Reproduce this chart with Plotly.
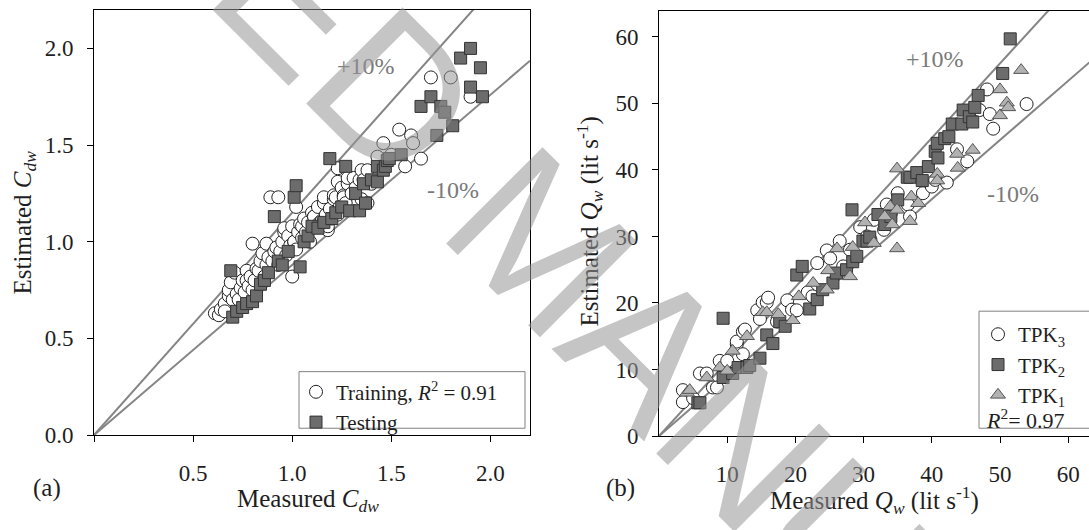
import plotly.graph_objects as go

# ---------------- data: panel (a) ----------------
train_x = [0.61, 0.63, 0.64, 0.66, 0.66, 0.68, 0.68, 0.69, 0.70, 0.71, 0.72, 0.73, 0.74, 0.75, 0.76, 0.77, 0.77,
           0.78, 0.79, 0.80, 0.80, 0.81, 0.82, 0.83, 0.84, 0.85, 0.86, 0.87, 0.87, 0.88, 0.89, 0.90, 0.91, 0.92,
           0.93, 0.93, 0.94, 0.95, 0.96, 0.96, 0.97, 0.98, 0.99, 1.00, 1.00, 1.01, 1.01, 1.02, 1.02, 1.03, 1.04,
           1.05, 1.05, 1.06, 1.07, 1.08, 1.09, 1.10, 1.11, 1.11, 1.12, 1.13, 1.14, 1.15, 1.16, 1.16, 1.16, 1.17,
           1.18, 1.18, 1.19, 1.20, 1.21, 1.21, 1.22, 1.23, 1.23, 1.23, 1.24, 1.25, 1.26, 1.26, 1.27, 1.28, 1.28,
           1.30, 1.31, 1.32, 1.34, 1.35, 1.35, 1.36, 1.38, 1.38, 1.40, 1.43, 1.46, 1.50, 1.54, 1.57, 1.60, 1.61,
           1.65, 1.70, 1.80, 1.90]
train_y = [0.63, 0.62, 0.65, 0.68, 0.64, 0.72, 0.75, 0.79, 0.70, 0.84, 0.73, 0.70, 0.76, 0.80, 0.74, 0.85, 0.80,
           0.77, 0.82, 0.99, 0.75, 0.80, 0.86, 0.85, 0.90, 0.94, 0.82, 0.99, 0.88, 0.92, 1.23, 0.90, 0.95, 0.97,
           1.23, 0.88, 0.95, 1.00, 1.05, 1.07, 0.93, 1.03, 0.98, 0.82, 1.08, 1.00, 1.00, 1.18, 0.96, 1.05, 1.09,
           1.02, 1.08, 1.12, 1.05, 1.10, 1.00, 1.15, 1.13, 1.13, 1.08, 1.18, 1.10, 1.11, 1.20, 1.23, 1.11, 1.14,
           1.06, 1.08, 1.17, 1.12, 1.22, 1.24, 1.23, 1.14, 1.38, 1.31, 1.18, 1.28, 1.24, 1.23, 1.20, 1.30, 1.33,
           1.25, 1.33, 1.28, 1.32, 1.22, 1.37, 1.32, 1.37, 1.20, 1.30, 1.44, 1.51, 1.45, 1.58, 1.39, 1.55, 1.51,
           1.43, 1.85, 1.85, 1.75]

test_x = [0.69, 0.70, 0.72, 0.75, 0.77, 0.80, 0.82, 0.84, 0.86, 0.88, 0.91, 0.93, 0.95, 0.98, 1.01, 1.02, 1.04,
          1.06, 1.08, 1.10, 1.13, 1.16, 1.19, 1.20, 1.22, 1.25, 1.27, 1.29, 1.32, 1.34, 1.36, 1.37, 1.40, 1.43,
          1.43, 1.46, 1.47, 1.48, 1.49, 1.55, 1.65, 1.70, 1.73, 1.75, 1.77, 1.81, 1.85, 1.90, 1.90, 1.95, 1.96]
test_y = [0.85, 0.61, 0.64, 0.66, 0.68, 0.69, 0.72, 0.78, 0.80, 0.84, 1.13, 0.90, 0.88, 0.95, 1.23, 1.29, 0.87,
          1.00, 1.03, 1.08, 1.07, 1.10, 1.43, 1.12, 1.15, 1.18, 1.39, 1.16, 1.25, 1.16, 1.30, 1.20, 1.32, 1.31,
          1.39, 1.37, 1.39, 1.42, 1.43, 1.45, 1.70, 1.75, 1.55, 1.70, 1.67, 1.60, 1.95, 2.00, 1.80, 1.90, 1.75]

# ---------------- data: panel (b) ----------------
tpk3_x = [3.5, 3.5, 5.0, 6.0, 7.0, 7.9, 8.5, 8.9, 10.0, 11.4, 11.4, 12.3, 12.3, 12.6, 14.4, 14.8, 15.2, 15.8,
          16.0, 17.3, 18.8, 19.5, 20.2, 21.8, 22.5, 23.2, 24.6, 25.1, 26.5, 27.0, 28.0, 29.5, 30.5, 31.0, 31.5,
          33.0, 33.4, 34.0, 35.0, 36.5, 36.8, 38.7, 40.0, 40.5, 42.2, 43.7, 45.2, 47.0, 48.1, 48.5, 49.0, 53.9]
tpk3_y = [6.9, 5.1, 5.7, 9.4, 9.4, 7.3, 7.3, 11.3, 11.3, 13.8, 14.2, 15.7, 12.3, 16.0, 18.9, 17.6, 20.1, 20.1,
          20.8, 17.2, 20.4, 19.0, 18.9, 21.6, 21.0, 26.0, 27.9, 26.7, 29.3, 25.5, 28.0, 31.4, 30.0, 29.5, 32.5,
          31.0, 34.8, 33.5, 36.5, 34.8, 33.0, 36.5, 37.5, 38.5, 38.1, 43.1, 41.3, 49.0, 52.1, 48.4, 46.2, 49.9]

tpk2_x = [5.7, 6.0, 9.4, 9.4, 10.8, 11.6, 12.9, 13.3, 14.8, 15.8, 16.7, 17.7, 18.5, 20.2, 21.0, 22.1, 23.2,
          24.0, 25.5, 26.0, 27.5, 28.3, 28.4, 29.0, 29.9, 30.5, 30.9, 32.1, 33.1, 34.0, 35.0, 36.4, 36.8, 37.8,
          38.6, 39.5, 40.5, 40.8, 40.9, 41.9, 42.5, 43.0, 44.4, 44.6, 45.5, 46.0, 46.3, 46.8, 50.4, 51.5]
tpk2_y = [5.0, 5.0, 8.8, 17.7, 9.4, 10.3, 10.3, 10.6, 11.7, 15.2, 13.9, 17.2, 16.5, 24.2, 25.5, 19.1, 20.5,
          22.0, 23.0, 24.5, 25.0, 34.0, 26.2, 27.0, 29.3, 29.3, 29.9, 33.3, 31.8, 33.0, 35.5, 38.9, 38.9, 39.6,
          38.4, 40.5, 42.8, 44.0, 41.8, 44.7, 45.0, 46.9, 46.9, 49.0, 48.0, 47.2, 49.4, 51.2, 54.5, 59.7]

tpk1_x = [4.1, 4.5, 7.0, 8.9, 10.0, 10.8, 12.9, 15.2, 15.8, 17.5, 19.6, 20.5, 22.6, 24.6, 24.8, 26.1, 28.0,
          28.4, 30.2, 31.5, 33.1, 33.9, 34.2, 34.9, 34.9, 34.9, 36.8, 37.0, 38.0, 40.8, 40.8, 43.7, 43.8, 46.0,
          50.0, 50.0, 51.0, 51.2, 53.1]
tpk1_y = [6.5, 6.9, 8.8, 10.3, 9.8, 12.8, 15.0, 18.6, 18.6, 18.3, 17.4, 21.0, 23.0, 22.0, 24.9, 28.2, 24.0,
          28.4, 32.1, 29.0, 33.0, 34.5, 31.8, 34.0, 40.2, 28.2, 32.3, 36.0, 35.0, 39.4, 38.4, 42.4, 40.3, 43.0,
          48.2, 52.1, 50.1, 49.4, 55.0]

# reference lines (+10% / -10% bands as drawn)
band_a = {"upper": 1.15, "lower": 0.88}
band_b = {"upper": 1.12, "lower": 0.89}
xmax_a = 2.2
xmax_b = 64.0

W, H = 1089, 530
SERIF = "Liberation Serif, Tinos, 'Times New Roman', 'DejaVu Serif', serif"
INK = "#1e1e1e"


def px_x(p):
    return p / W


def px_y(p):
    return 1 - p / H


fig = go.Figure()

line_style = dict(color="#858585", width=2)
for k in ("upper", "lower"):
    fig.add_trace(go.Scatter(x=[0, xmax_a], y=[0, xmax_a * band_a[k]], mode="lines", line=line_style,
                             showlegend=False, hoverinfo="skip", xaxis="x", yaxis="y"))
for k in ("upper", "lower"):
    fig.add_trace(go.Scatter(x=[0, xmax_b], y=[0, xmax_b * band_b[k]], mode="lines", line=line_style,
                             showlegend=False, hoverinfo="skip", xaxis="x2", yaxis="y2"))

fig.add_trace(go.Scatter(
    x=train_x, y=train_y, mode="markers", name="Training, <i>R</i><sup>2</sup> = 0.91",
    marker=dict(symbol="circle", size=13, color="white", line=dict(color="#222222", width=1)),
    xaxis="x", yaxis="y", legend="legend"))
fig.add_trace(go.Scatter(
    x=test_x, y=test_y, mode="markers", name="Testing",
    marker=dict(symbol="square", size=12, color="#6c6c6c", line=dict(color="#333333", width=1)),
    xaxis="x", yaxis="y", legend="legend"))

fig.add_trace(go.Scatter(
    x=tpk3_x, y=tpk3_y, mode="markers", name="TPK<sub>3</sub>",
    marker=dict(symbol="circle", size=13, color="white", line=dict(color="#222222", width=1)),
    xaxis="x2", yaxis="y2", legend="legend2"))
fig.add_trace(go.Scatter(
    x=tpk2_x, y=tpk2_y, mode="markers", name="TPK<sub>2</sub>",
    marker=dict(symbol="square", size=12, color="#6c6c6c", line=dict(color="#333333", width=1)),
    xaxis="x2", yaxis="y2", legend="legend2"))
fig.add_trace(go.Scatter(
    x=tpk1_x, y=tpk1_y, mode="markers", name="TPK<sub>1</sub>",
    marker=dict(symbol="triangle-up", size=13, color="#b2b2b2", line=dict(color="#555555", width=1)),
    xaxis="x2", yaxis="y2", legend="legend2"))

axis_common = dict(showgrid=False, zeroline=False, showline=True, linecolor="black", linewidth=1,
                   ticks="outside", ticklen=6, tickcolor="black",
                   tickfont=dict(family=SERIF, size=23, color=INK))

fig.update_layout(
    width=W, height=H, margin=dict(l=0, r=0, t=0, b=0),
    plot_bgcolor="white", paper_bgcolor="white",
    font=dict(family=SERIF, size=22, color=INK),
    xaxis=dict(domain=[px_x(94), px_x(530)], range=[0, xmax_a], tickvals=[0, 0.5, 1.0, 1.5, 2.0],
               ticktext=["", "0.5", "1.0", "1.5", "2.0"], mirror=True, ticklabelstandoff=11, anchor="y",
               **axis_common),
    yaxis=dict(domain=[px_y(446), px_y(10)], range=[0, xmax_a], tickvals=[0, 0.5, 1.0, 1.5, 2.0],
               ticktext=["0.0", "0.5", "1.0", "1.5", "2.0"], mirror=True, ticklabelstandoff=9, anchor="x",
               **axis_common),
    xaxis2=dict(domain=[px_x(659), 1.0], range=[0, (W - 659) / 6.82], tickvals=[10, 20, 30, 40, 50, 60],
                mirror=True, ticklabelstandoff=11, anchor="y2", **axis_common),
    yaxis2=dict(domain=[px_y(447), px_y(11)], range=[0, (447 - 11) / 6.82], tickvals=[0, 10, 20, 30, 40, 50, 60],
                mirror=False, ticklabelstandoff=9, anchor="x2", **axis_common),
    legend=dict(x=px_x(296), y=px_y(381), xanchor="left", yanchor="top", bgcolor="rgba(0,0,0,0)",
                borderwidth=0, font=dict(family=SERIF, size=21, color=INK),
                itemwidth=30, tracegroupgap=0),
    legend2=dict(x=px_x(978), y=px_y(322), xanchor="left", yanchor="top", bgcolor="rgba(0,0,0,0)",
                 borderwidth=0, font=dict(family=SERIF, size=21, color=INK), itemwidth=30,
                 tracegroupgap=0),
    showlegend=True,
)

# legend boxes
fig.add_shape(type="rect", xref="paper", yref="paper", x0=px_x(299), x1=px_x(525), y0=px_y(439), y1=px_y(381),
              line=dict(color="#808080", width=1), fillcolor="rgba(0,0,0,0)")
fig.add_shape(type="rect", xref="paper", yref="paper", x0=px_x(979), x1=px_x(1100), y0=px_y(439), y1=px_y(319),
              line=dict(color="#808080", width=1), fillcolor="rgba(0,0,0,0)")

ann = []
ann.append(dict(text="<i>R</i><sup>2</sup>= 0.97", x=px_x(984), y=px_y(430), xanchor="left", yanchor="middle",
                font=dict(family=SERIF, size=22, color=INK)))
for txt, xx, yy, suf in [("+10%", 1.37, 1.91, ""), ("-10%", 1.81, 1.27, ""),
                         ("+10%", 40.5, 56.6, "2"), ("-10%", 51.9, 36.4, "2")]:
    ann.append(dict(text=txt, x=xx, y=yy, xref="x" + suf, yref="y" + suf, showarrow=False,
                    font=dict(family=SERIF, size=24, color="#7a7a7a")))
ann.append(dict(text="Measured <i>C</i><sub><i>dw</i></sub>", x=px_x(308), y=px_y(513)))
ann.append(dict(text="Estimated <i>C</i><sub><i>dw</i></sub>", x=px_x(24), y=px_y(228), textangle=-90))
ann.append(dict(text="Measured <i>Q</i><sub><i>w</i></sub> (lit s<sup>-1</sup>)", x=px_x(874), y=px_y(513)))
ann.append(dict(text="Estimated <i>Q</i><sub><i>w</i></sub> (lit s<sup>-1</sup>)", x=px_x(590), y=px_y(227),
                textangle=-90))
ann.append(dict(text="(a)", x=px_x(47), y=px_y(500), font=dict(family=SERIF, size=25, color=INK)))
ann.append(dict(text="(b)", x=px_x(620), y=px_y(500), font=dict(family=SERIF, size=25, color=INK)))
# watermark
ann.append(dict(text="ACCEPTED MANUSCRIPT", x=px_x(545), y=px_y(252), textangle=45,
                font=dict(family="Liberation Sans, Arimo, Arial, sans-serif", size=198,
                          color="rgba(150,150,150,0.55)")))

for a in ann:
    a.setdefault("xref", "paper")
    a.setdefault("yref", "paper")
    a.setdefault("showarrow", False)
    a.setdefault("xanchor", "center")
    a.setdefault("yanchor", "middle")
    a.setdefault("font", dict(family=SERIF, size=25, color=INK))
    fig.add_annotation(**a)

fig.write_html("out.html")
